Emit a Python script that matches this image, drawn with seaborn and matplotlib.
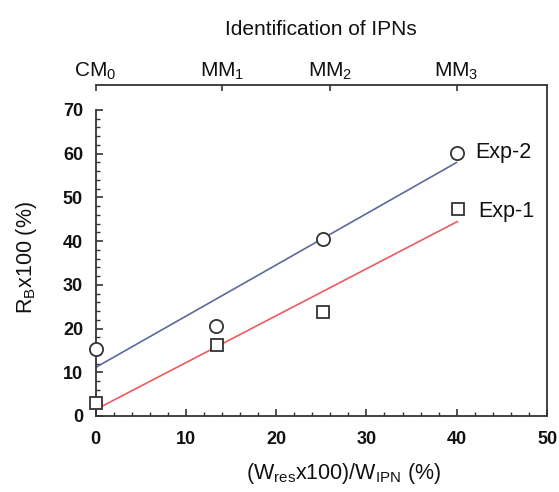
import matplotlib
matplotlib.use("Agg")
import matplotlib.pyplot as plt
from matplotlib.ticker import MultipleLocator, FixedLocator
import seaborn as sns
import pandas as pd

# data
exp2_x = [0, 13.3, 25.2, 40.0]
exp2_y = [15.3, 20.5, 40.4, 60.2]
exp1_x = [0, 13.4, 25.2, 40.1]
exp1_y = [3.0, 16.2, 23.7, 47.4]
top_tick_pos = [0, 14, 26, 40]
top_tick_labels = [r"CM$_\mathregular{0}$", r"MM$_\mathregular{1}$",
                   r"MM$_\mathregular{2}$", r"MM$_\mathregular{3}$"]
series_names = ["Exp-2", "Exp-1"]

sns.set_style("white")
plt.rcParams["font.family"] = ["Liberation Sans", "DejaVu Sans"]
plt.rcParams["mathtext.default"] = "regular"

fig = plt.figure(figsize=(5.59, 4.92), dpi=100)
ax = fig.add_axes([95.5 / 559, 1 - 416 / 492, (547 - 95.5) / 559, (416 - 85) / 492])

df2 = pd.DataFrame({"x": exp2_x, "y": exp2_y})
df1 = pd.DataFrame({"x": exp1_x, "y": exp1_y})

blue = "#5b6a9c"
red = "#ef5a5e"
edge = "#333333"

sns.regplot(data=df2, x="x", y="y", ax=ax, scatter=False, ci=None, truncate=True,
            line_kws=dict(color=blue, lw=1.2))
sns.regplot(data=df1, x="x", y="y", ax=ax, scatter=False, ci=None, truncate=True,
            line_kws=dict(color=red, lw=1.2))

ax.plot(exp2_x, exp2_y, ls="none", marker="o", ms=9.5, mfc="white", mec=edge,
        mew=1.3, clip_on=False, zorder=5)
ax.plot(exp1_x, exp1_y, ls="none", marker="s", ms=8.5, mfc="white", mec=edge,
        mew=1.3, clip_on=False, zorder=5)

ax.text(exp2_x[-1] + 2.0, exp2_y[-1] - 1.2, series_names[0], fontsize=15.5,
        va="baseline", ha="left", color="#111111")
ax.text(exp1_x[-1] + 2.25, exp1_y[-1] - 1.9, series_names[1], fontsize=15.5,
        va="baseline", ha="left", color="#111111")

ax.set_xlim(0, 50)
ax.set_ylim(0, 75.7)
ax.xaxis.set_major_locator(MultipleLocator(10))
ax.xaxis.set_minor_locator(MultipleLocator(2))
ax.yaxis.set_major_locator(FixedLocator(list(range(0, 71, 10))))
ax.yaxis.set_minor_locator(FixedLocator([v for v in range(0, 71, 2) if v % 10]))

for s in ax.spines.values():
    s.set_color(edge)
    s.set_linewidth(1.3)
ax.spines["left"].set_bounds(0, 70)
ax.spines["top"].set_visible(False)

ax.tick_params(axis="both", which="major", direction="in", length=5, width=1.2,
               color=edge, labelsize=13)
ax.tick_params(axis="both", which="minor", direction="in", length=3, width=1.0,
               color=edge)
ax.tick_params(axis="y", which="both", left=True, right=False)
ax.tick_params(axis="x", which="both", bottom=True, top=False)
for lab in ax.get_xticklabels() + ax.get_yticklabels():
    lab.set_fontweight("bold")
    lab.set_color("#111111")
ax.tick_params(axis="x", which="major", pad=11)
ax.tick_params(axis="y", which="major", pad=9)

ax.set_xlabel(r"(W$_\mathregular{res}$x100)/W$_\mathregular{IPN}$ (%)", fontsize=15.5,
              color="#111111")
ax.xaxis.set_label_coords(0.55, -0.135)
ax.set_ylabel(r"R$_\mathregular{B}$x100 (%)", fontsize=15.5, color="#111111")
ax.yaxis.set_label_coords(-0.125, 0.48)

sec = ax.secondary_xaxis("top")
sec.set_xticks(top_tick_pos)
sec.set_xticklabels(top_tick_labels, fontsize=15)
sec.spines["top"].set_color(edge)
sec.spines["top"].set_linewidth(1.3)
sec.tick_params(axis="x", which="major", top=True, direction="in", length=4,
                width=1.2, color=edge, pad=2, labelcolor="#111111")
sec.tick_params(axis="x", which="minor", top=False)
sec.set_xlabel("Identification of IPNs", fontsize=15, labelpad=19, color="#111111")

fig.savefig("out.png", dpi=100, facecolor="white")
